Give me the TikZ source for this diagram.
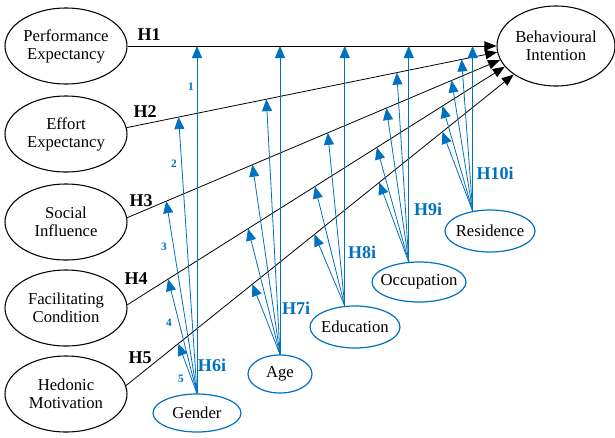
\documentclass[tikz,border=0pt]{standalone}
\usepackage{fontspec}
\setmainfont{Liberation Serif}
\usepackage{xcolor}
\usepackage{tikz}
\usetikzlibrary{shapes,arrows.meta,positioning,calc}
\definecolor{modblue}{RGB}{0,112,192}

\begin{document}
\begin{tikzpicture}[x=0.75pt,y=-0.75pt,
    factor/.style={ellipse,draw,line width=0.8pt,inner xsep=-6pt,inner ysep=0pt,
        align=center,font=\fontsize{12.5}{13.5}\selectfont,
        minimum width=91.5pt,minimum height=57pt},
    moder/.style={ellipse,draw=modblue,line width=0.9pt,inner xsep=-6pt,inner ysep=0pt,
        font=\fontsize{12.5}{13.5}\selectfont,minimum height=28.5pt},
    hyp/.style={line width=0.6pt,-{Triangle[length=9pt,width=7pt]}},
    modarrow/.style={modblue,line width=0.6pt,-{Triangle[length=9pt,width=7.5pt]}},
    hlabel/.style={font=\fontsize{13.5}{13.5}\selectfont\bfseries},
    mlabel/.style={modblue,font=\fontsize{13.5}{13.5}\selectfont\bfseries},
    numlabel/.style={modblue,font=\fontsize{8.5}{8.5}\selectfont\bfseries}]
\useasboundingbox (0,0) rectangle (615,437);
% Draw constructs
\node[factor] (pe) at (66,46) {Performance\\Expectancy};
\node[factor] (ee) at (66,134) {Effort\\Expectancy};
\node[factor] (si) at (66,222) {Social\\Influence};
\node[factor] (fc) at (66,308) {Facilitating\\Condition};
\node[factor] (hm) at (66,394) {Hedonic\\Motivation};
\node[factor,minimum width=88.5pt,minimum height=60pt] (bi) at (556,46) {Behavioural\\Intention};
% Draw moderators
\node[moder,minimum width=66pt] (gender) at (197,413) {Gender};
\node[moder,minimum width=48pt] (age) at (280,374) {Age};
\node[moder,minimum width=67.5pt,minimum height=31.5pt] (edu) at (355,327) {Education};
\node[moder,minimum width=70.5pt,minimum height=30pt] (occ) at (419,282) {Occupation};
\node[moder,minimum width=67.5pt,minimum height=31.5pt] (res) at (490,231) {Residence};
\coordinate (gtop) at (gender.north);
\coordinate (atop) at (age.north);
\coordinate (etop) at (edu.116);
\coordinate (otop) at (occ.117);
\coordinate (rtop) at (res.131);
% Hypotheses H1-H5
\draw[hyp] (pe.east) -- (bi.west);
\draw[hyp] (ee.6) -- (bi.186);
\draw[hyp] (si.4) -- (bi.194);
\draw[hyp] (fc.3) -- (bi.202);
\draw[hyp] (hm.8) -- (bi.214);
\node[hlabel] (h1) at (149,35) {H1};
\node[hlabel] (h2) at (145,112) {H2};
\node[hlabel] (h3) at (141,201) {H3};
\node[hlabel] (h4) at (136,279) {H4};
\node[hlabel] (h5) at (140,358) {H5};
% Moderating effects
\foreach \m in {gtop,atop,etop,otop,rtop}
    \draw[modarrow] (\m) -- (\m |- pe.east);
\foreach \m/\t in {gtop/0.140,atop/0.377,otop/0.729,rtop/0.904}
    \draw[modarrow] (\m) -- ($(ee.6)!\t!(bi.186)$);
\foreach \m/\t in {gtop/0.105,atop/0.336,etop/0.538,otop/0.695,rtop/0.870}
    \draw[modarrow] (\m) -- ($(si.4)!\t!(bi.194)$);
\foreach \m/\t in {gtop/0.108,atop/0.320,etop/0.497,otop/0.661,rtop/0.835}
    \draw[modarrow] (\m) -- ($(fc.3)!\t!(bi.202)$);
\foreach \m/\t in {gtop/0.135,atop/0.326,etop/0.486,otop/0.653,rtop/0.816}
    \draw[modarrow] (\m) -- ($(hm.8)!\t!(bi.214)$);
\node[mlabel] (h6i) at (212,365) {H6i};
\node[mlabel] (h7i) at (296,308) {H7i};
\node[mlabel] (h8i) at (362,252) {H8i};
\node[mlabel] (h9i) at (428,209) {H9i};
\node[mlabel] (h10i) at (495,173) {H10i};
\foreach \n/\x/\y in {1/191/87,2/174/164,3/164/247,4/169/323,5/181/379}
    \node[numlabel] (num\n) at (\x,\y) {\n};
\end{tikzpicture}
\end{document}
